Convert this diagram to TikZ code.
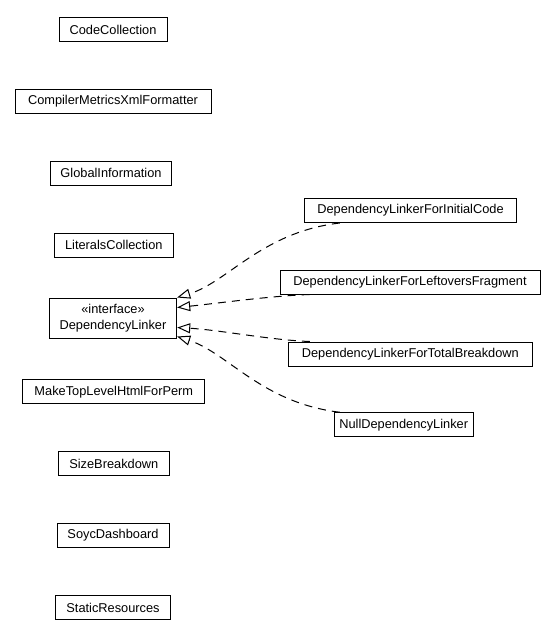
\documentclass[tikz,border=0pt]{standalone}
\usepackage{fontspec}
\setmainfont{Liberation Sans}
\usetikzlibrary{arrows.meta,calc}
\begin{document}
\begin{tikzpicture}[x=1pt,y=-1pt,
  cls/.style={draw, line width=1pt, inner sep=0pt, minimum height=24pt, font=\fontsize{12.8}{15.5}\selectfont, align=center},
  dep/.style={line width=1pt, dash pattern=on 8pt off 6pt, -{Triangle[open, length=13pt, width=10pt, fill=white]}}]
\useasboundingbox (0,0) rectangle (556,637);
\node[cls, minimum width=108pt] (cc) at (113,29.5) {CodeCollection};
\node[cls, minimum width=196pt] (cmxf) at (113,101.3) {CompilerMetricsXmlFormatter};
\node[cls, minimum width=120.6pt] (gi) at (111,173) {GlobalInformation};
\node[cls, minimum width=119pt] (lc) at (113.8,245) {LiteralsCollection};
\node[cls, minimum width=127.4pt, minimum height=40pt] (dl) at (113,318) {«interface»\\DependencyLinker};
\node[cls, minimum width=182pt] (mtl) at (113.8,391.7) {MakeTopLevelHtmlForPerm};
\node[cls, minimum width=111pt] (sb) at (113.8,463.5) {SizeBreakdown};
\node[cls, minimum width=112pt] (sd) at (113,535.5) {SoycDashboard};
\node[cls, minimum width=115pt] (sr) at (113,607.5) {StaticResources};
\node[cls, minimum width=212.4pt] (ic) at (410.5,210.5) {DependencyLinkerForInitialCode};
\node[cls, minimum width=260pt] (lf) at (410,282) {DependencyLinkerForLeftoversFragment};
\node[cls, minimum width=244pt] (tb) at (410.3,354) {DependencyLinkerForTotalBreakdown};
\node[cls, minimum width=139pt] (nd) at (403.7,424.7) {NullDependencyLinker};
\draw[dep] ($(ic.south west)+(36,0)$) .. controls (262,232) and (228,282) .. (dl.north east);
\draw[dep] ($(lf.south west)+(30,0)$) .. controls (270,296) and (220,303) .. ($(dl.north east)+(0,10)$);
\draw[dep] ($(tb.north west)+(22,0)$) .. controls (270,340) and (220,330) .. ($(dl.south east)+(0,-11)$);
\draw[dep] ($(nd.north west)+(6,0)$) .. controls (262,403) and (228,353) .. ($(dl.south east)+(0,-2)$);
\end{tikzpicture}
\end{document}
